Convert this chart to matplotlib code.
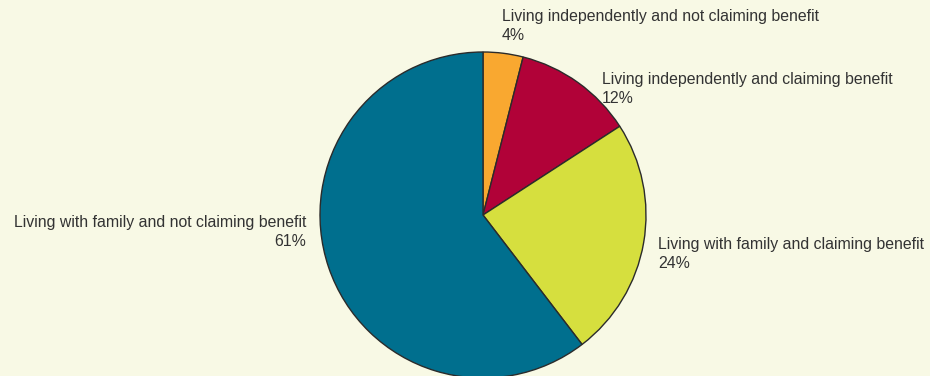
import matplotlib
matplotlib.use("Agg")
import matplotlib.pyplot as plt

categories = [
    "Living independently and not claiming benefit",
    "Living independently and claiming benefit",
    "Living with family and claiming benefit",
    "Living with family and not claiming benefit",
]
values = [4, 12, 24, 61]
colors = ["#F9A830", "#B10238", "#D6DF3E", "#006F8E"]

BG = "#F8F9E5"
plt.rcParams["font.family"] = ["Liberation Sans", "DejaVu Sans"]

W, H = 930, 376
fig = plt.figure(figsize=(W / 100, H / 100), dpi=100, facecolor=BG)
ax = fig.add_axes([0, 0, 1, 1])
ax.set_facecolor(BG)

cx, cy, r = 483, 215, 163
ax.pie(values, colors=colors, startangle=90, counterclock=False,
       wedgeprops=dict(edgecolor="#2b2b2b", linewidth=1.0), radius=1)
ax.set_xlim(-cx / r, (W - cx) / r)
ax.set_ylim(-(H - cy) / r, cy / r)
ax.set_aspect("equal", adjustable="box")
ax.axis("off")

# label positions (pixel: x, y center, alignment)
label_pos = [
    (502, 26, "left"),
    (602, 89, "left"),
    (658, 254, "left"),
    (306, 232, "right"),
]
for cat, val, (px, py, ha) in zip(categories, values, label_pos):
    fig.text(px / W, 1 - py / H, f"{cat}\n{val}%", ha=ha, va="center",
             multialignment=ha, fontsize=11.45, color="#333333", linespacing=1.32)

fig.savefig("out.png", dpi=100, facecolor=BG)
